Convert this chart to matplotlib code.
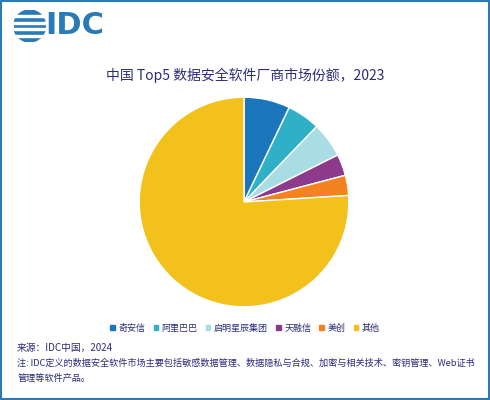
import matplotlib
matplotlib.use("Agg")
import matplotlib.pyplot as plt
from matplotlib.patches import Rectangle, Circle

plt.rcParams['font.family'] = ['Noto Sans CJK SC', 'DejaVu Sans']

labels = ['奇安信', '阿里巴巴', '启明星辰集团', '天融信', '美创', '其他']
values = [7.1, 5.1, 5.4, 3.3, 3.1, 76.0]
colors = ['#1b75bb', '#2fb0c6', '#a8dde3', '#8d3a8c', '#f58220', '#f2c11c']

fig = plt.figure(figsize=(4.9, 4.0), dpi=100)
fig.patches.append(Rectangle((0.003, 0.003), 0.994, 0.994, transform=fig.transFigure,
                             fill=False, edgecolor='#2a7ab8', linewidth=1.5))

# logo
lax = fig.add_axes([0.028, 0.895, 0.065, 0.08])
lax.set_xlim(-1, 1); lax.set_ylim(-1, 1); lax.axis('off'); lax.set_aspect('equal')
lax.add_patch(Circle((0, 0), 1, color='#2a7ab8'))
for y in [-0.6, -0.2, 0.2, 0.6]:
    lax.add_patch(Rectangle((-1, y - 0.06), 2, 0.12, color='white'))
fig.text(0.093, 0.935, 'IDC', fontsize=22, color='#2a7ab8', fontweight='bold',
         va='center', ha='left', family=['DejaVu Sans'])

fig.text(0.5, 0.812, '中国 Top5 数据安全软件厂商市场份额，2023', fontsize=10,
         color='#2b2b7a', ha='center', va='center')

w, h = 262 / 490, 262 / 400
ax = fig.add_axes([0.498 - w / 2, 0.495 - h / 2, w, h])
ax.pie(values, colors=colors, startangle=90, counterclock=False,
       wedgeprops=dict(edgecolor='white', linewidth=1))
ax.set_aspect('equal')

handles = [Rectangle((0, 0), 1, 1, color=c) for c in colors]
fig.legend(handles, labels, loc='center', bbox_to_anchor=(0.5, 0.18), ncol=6,
           frameon=False, fontsize=6.5, handlelength=0.5, handleheight=0.5,
           handletextpad=0.4, columnspacing=0.9, labelcolor='#2b2b7a')

fig.text(0.035, 0.13, '来源：IDC中国，2024', fontsize=7, color='#2b2b7a', va='center')
fig.text(0.035, 0.093, '注: IDC定义的数据安全软件市场主要包括敏感数据管理、数据隐私与合规、加密与相关技术、密钥管理、Web证书',
         fontsize=6.6, color='#2b2b7a', va='center')
fig.text(0.035, 0.055, '管理等软件产品。', fontsize=6.6, color='#2b2b7a', va='center')

fig.savefig('out.png', dpi=100)
